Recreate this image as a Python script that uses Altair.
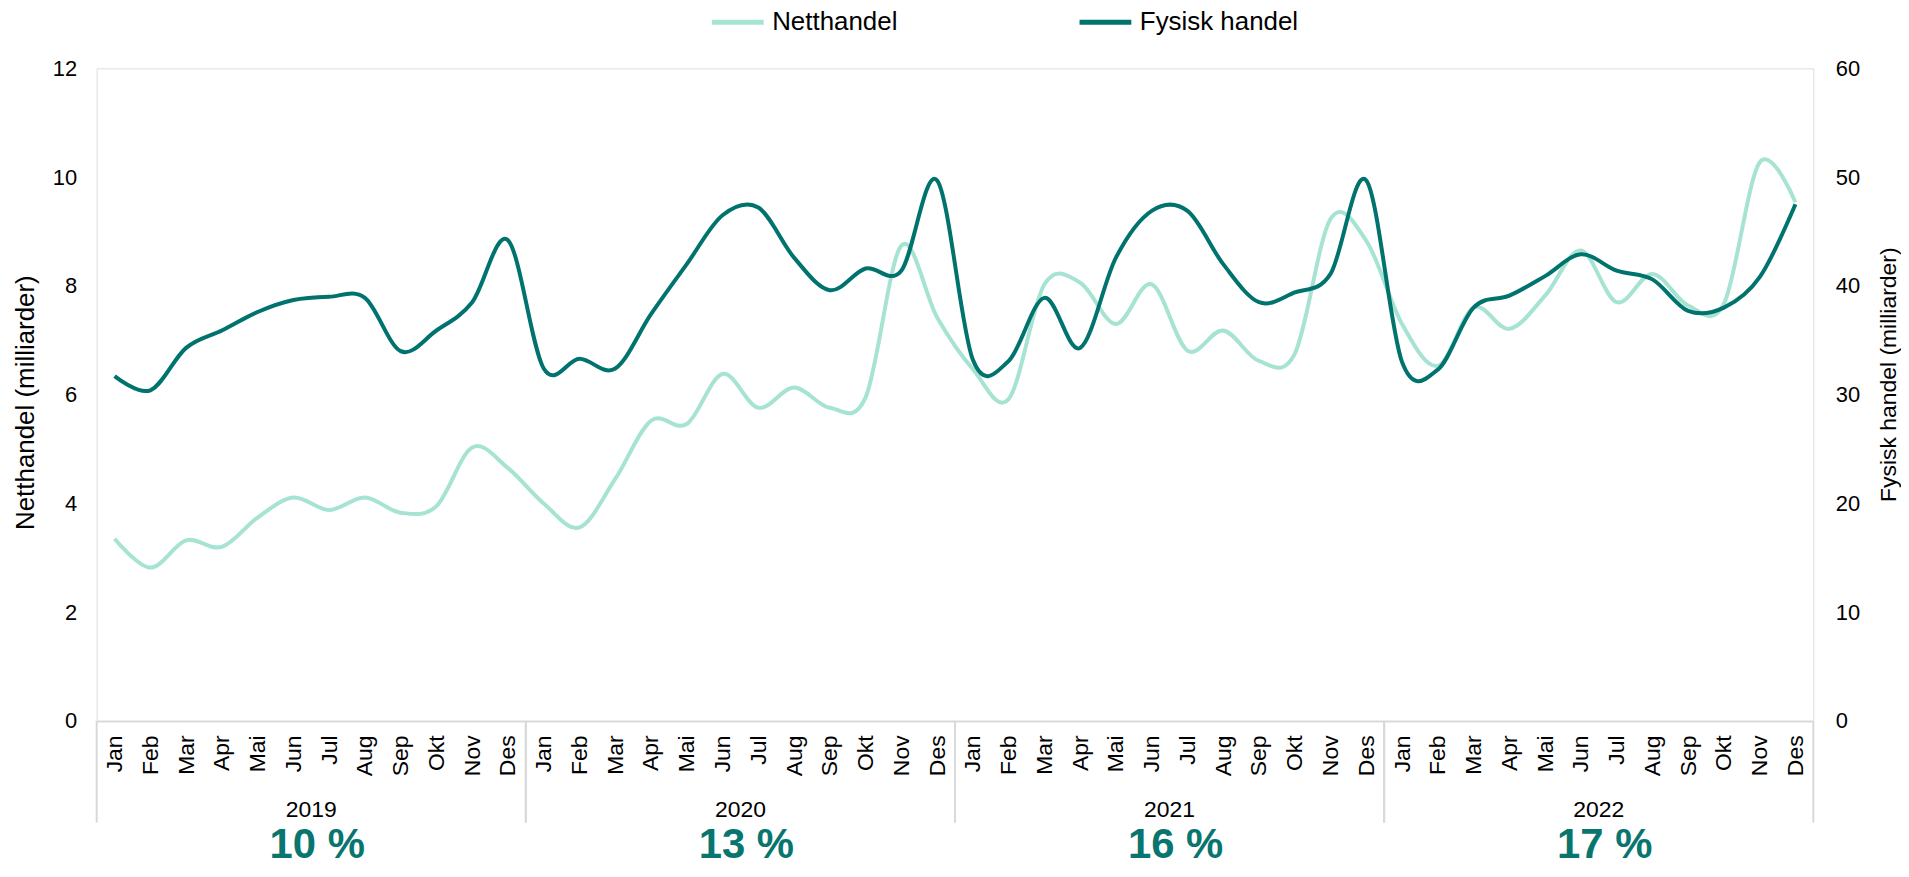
import altair as alt
import pandas as pd

months = ["Jan", "Feb", "Mar", "Apr", "Mai", "Jun", "Jul", "Aug", "Sep", "Okt", "Nov", "Des"]
years = ["2019", "2020", "2021", "2022"]
shares = ["10 %", "13 %", "16 %", "17 %"]

netthandel = [
    3.35, 2.82, 3.32, 3.20, 3.74, 4.11, 3.88, 4.11, 3.83, 3.95, 5.03, 4.65,
    4.00, 3.56, 4.45, 5.52, 5.46, 6.38, 5.76, 6.13, 5.76, 5.95, 8.74, 7.42,
    6.47, 5.92, 8.03, 8.06, 7.30, 8.03, 6.81, 7.18, 6.62, 6.75, 9.23, 8.83,
    7.30, 6.53, 7.60, 7.21, 7.82, 8.65, 7.70, 8.22, 7.64, 7.67, 10.27, 9.54,
]
fysisk = [
    31.7, 30.4, 34.3, 35.9, 37.6, 38.7, 39.0, 38.9, 34.0, 35.9, 38.5, 44.2,
    32.4, 33.3, 32.4, 37.4, 42.0, 46.5, 47.2, 42.6, 39.6, 41.6, 41.4, 49.7,
    33.2, 33.1, 38.9, 34.3, 42.6, 46.9, 46.9, 42.0, 38.5, 39.4, 41.1, 49.7,
    33.0, 32.3, 38.0, 39.1, 40.9, 42.9, 41.4, 40.6, 37.7, 38.0, 40.8, 47.5,
]

rows = []
for k, yr in enumerate(years):
    for m, mon in enumerate(months):
        i = k * 12 + m
        rows.append({"i": i, "month": mon, "year": yr, "share": shares[k],
                     "Netthandel": netthandel[i], "Fysisk handel": fysisk[i]})
df = pd.DataFrame(rows)

LIGHT = "#A6E3D3"
DARK = "#00736E"
GRID = "#D9D9D9"
W, H = 1723, 655

label_expr = "[" + ",".join("'%s'" % m for m in months) + "][datum.value % 12]"
x_scale = alt.Scale(domain=[-0.5, len(df) - 0.5], nice=False, zero=False)
x_axis = alt.Axis(values=list(range(len(df))), labelExpr=label_expr, labelAngle=270,
                  labelFontSize=23, labelColor="#000", labelPadding=14, labelOverlap=False,
                  labelFlush=False, ticks=False, tickSize=0, grid=False,
                  domainColor=GRID, domainWidth=2, title=None)


def xq(field):
    return alt.X(field + ":Q", scale=x_scale, axis=x_axis, title=None)


legend = alt.Legend(orient="none", legendX=615, legendY=-75, direction="horizontal",
                    symbolType="stroke", symbolStrokeWidth=5, symbolSize=2704,
                    labelFontSize=26, labelOffset=6, labelColor="#000",
                    columnPadding=172, padding=0, title=None)
color = alt.Color("serie:N",
                  scale=alt.Scale(domain=["Netthandel", "Fysisk handel"], range=[LIGHT, DARK]),
                  legend=legend)

left_axis = alt.Axis(orient="left", values=[0, 2, 4, 6, 8, 10, 12], grid=False, domain=False,
                     ticks=False, labelFontSize=22, labelPadding=20, labelColor="#000",
                     title="Netthandel (milliarder)", titleFontSize=26, titleFontWeight="normal",
                     titleColor="#000", titleAngle=270, titleX=-71, titleY=335,
                     titleBaseline="middle", titleAlign="center")
right_axis = alt.Axis(orient="right", values=[0, 10, 20, 30, 40, 50, 60], grid=False,
                      domain=False, ticks=False, labelFontSize=22, labelPadding=22,
                      labelColor="#000", title="Fysisk handel (milliarder)", titleFontSize=23,
                      titleFontWeight="normal", titleColor="#000", titleAngle=270,
                      titleX=75, titleY=307, titleBaseline="middle", titleAlign="center")

base = alt.Chart(df)

net = base.transform_calculate(serie="'Netthandel'").mark_line(
    interpolate="cardinal", strokeWidth=4).encode(
    x=xq("i"),
    y=alt.Y("Netthandel:Q", scale=alt.Scale(domain=[0, 12], nice=False), axis=left_axis),
    color=color)

fys = base.transform_calculate(serie="'Fysisk handel'").mark_line(
    interpolate="cardinal", strokeWidth=4).encode(
    x=xq("i"),
    y=alt.Y("Fysisk handel:Q", scale=alt.Scale(domain=[0, 60], nice=False), axis=right_axis),
    color=color)

seps = base.transform_aggregate(lo="min(i)", hi="max(i)", groupby=["year"]).transform_calculate(
    a="datum.lo - 0.5", b="datum.hi + 0.5").transform_fold(["a", "b"]).mark_rule(
    color=GRID, strokeWidth=2).encode(x=xq("value"), y=alt.value(H), y2=alt.value(757))

year_txt = base.transform_aggregate(xm="mean(i)", groupby=["year"]).mark_text(
    fontSize=23, baseline="alphabetic", color="#000").encode(
    x=xq("xm"), y=alt.value(751), text="year:N")

pct_txt = base.transform_aggregate(xm="mean(i)", groupby=["year", "share"]).mark_text(
    fontSize=42, fontWeight="bold", baseline="alphabetic", color="#08756F", dx=6).encode(
    x=xq("xm"), y=alt.value(793), text="share:N")

chart = alt.layer(seps, net, fys, year_txt, pct_txt).resolve_scale(y="independent").properties(
    width=W, height=H,
    autosize=alt.AutoSizeParams(type="none"),
    padding={"left": 89, "top": 59, "right": 88, "bottom": 147},
).configure_view(stroke=None).configure(font="Liberation Sans")

chart.save("out.html", embed_options={"renderer": "svg", "actions": False})
